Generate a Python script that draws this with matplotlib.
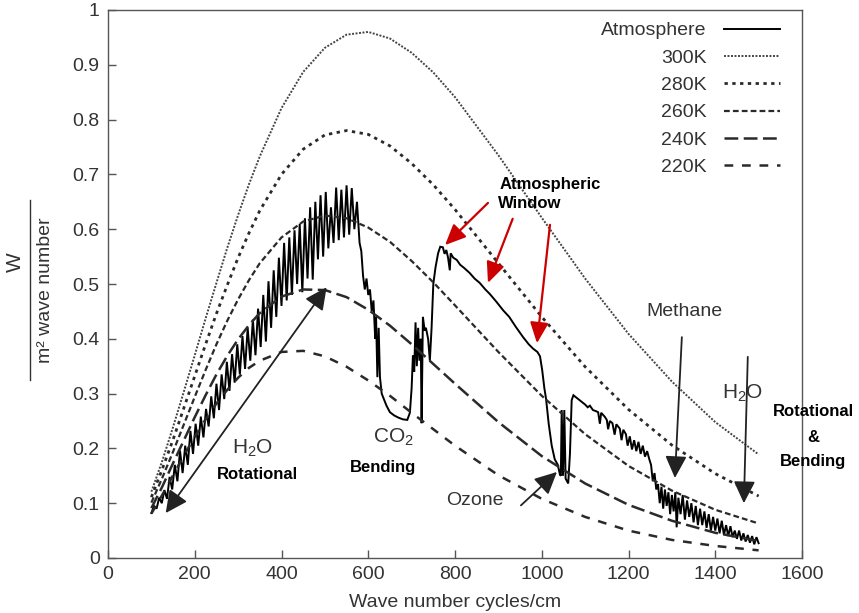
import matplotlib
matplotlib.use("Agg")
import matplotlib.pyplot as plt
from matplotlib.lines import Line2D

plt.rcParams['font.family'] = ['Liberation Sans', 'DejaVu Sans']
plt.rcParams['mathtext.fontset'] = 'custom'
plt.rcParams['mathtext.rm'] = 'Liberation Sans'
plt.rcParams['mathtext.it'] = 'Liberation Sans:italic'
plt.rcParams['mathtext.bf'] = 'Liberation Sans:bold'

# ---------------- data ----------------
wn = [100, 125, 150, 175, 200, 225, 250, 275, 300, 325, 350, 400, 450, 500,
      550, 600, 650, 700, 750, 800, 900, 1000, 1100, 1200, 1300, 1400, 1500]
b300 = [0.121, 0.177, 0.239, 0.304, 0.370, 0.437, 0.502, 0.566, 0.626, 0.682,
        0.733, 0.821, 0.887, 0.931, 0.955, 0.960, 0.948, 0.922, 0.886, 0.841,
        0.735, 0.621, 0.510, 0.409, 0.322, 0.248, 0.189]
b280 = [0.111, 0.162, 0.216, 0.274, 0.332, 0.390, 0.446, 0.498, 0.548, 0.593,
        0.634, 0.700, 0.746, 0.772, 0.780, 0.773, 0.752, 0.720, 0.681, 0.636,
        0.538, 0.440, 0.349, 0.271, 0.206, 0.154, 0.113]
b260 = [0.101, 0.146, 0.194, 0.244, 0.294, 0.343, 0.390, 0.433, 0.472, 0.507,
        0.538, 0.585, 0.614, 0.625, 0.620, 0.603, 0.577, 0.542, 0.503, 0.461,
        0.376, 0.296, 0.226, 0.168, 0.123, 0.088, 0.063]
b240 = [0.091, 0.130, 0.173, 0.215, 0.257, 0.297, 0.335, 0.369, 0.399, 0.425,
        0.447, 0.477, 0.490, 0.489, 0.476, 0.453, 0.424, 0.390, 0.354, 0.318,
        0.248, 0.186, 0.136, 0.097, 0.068, 0.046, 0.031]
b220 = [0.081, 0.115, 0.151, 0.187, 0.221, 0.253, 0.282, 0.307, 0.329, 0.347,
        0.360, 0.376, 0.378, 0.368, 0.349, 0.324, 0.296, 0.265, 0.235, 0.205,
        0.151, 0.108, 0.075, 0.050, 0.033, 0.022, 0.014]

atm_x = [100, 106, 112, 118, 124, 130, 136, 142, 148, 154, 160, 166, 172, 178,
         184, 190, 196, 202, 208, 214, 220, 226, 232, 238, 244, 250, 256, 262,
         268, 274, 280, 286, 292, 298, 304, 310, 316, 322, 328, 334, 340, 346,
         352, 358, 364, 370, 376, 382, 388, 394, 400, 406, 412, 418, 424, 430,
         436, 442, 448, 454, 460, 466, 472, 478, 484, 490, 496, 502, 508, 514,
         520, 526, 532, 538, 544, 550, 556, 562, 568, 574, 580,
         584, 588, 592, 596, 600, 604, 608, 612, 616, 618, 621, 624, 627, 631,
         636, 642, 650, 660, 670, 680, 690, 696, 700, 703, 706, 709, 712, 715,
         718, 721, 723, 726, 730, 733, 738, 742, 746, 750, 755, 761, 766, 772,
         776, 780, 784, 788, 790, 796, 804, 812, 820, 834, 845, 857, 870, 880,
         895, 911, 925, 940, 957, 970, 980, 990, 996, 1001, 1006, 1010, 1016,
         1023, 1030, 1037, 1042, 1044, 1046, 1049, 1052, 1055, 1061, 1065, 1069,
         1073, 1084, 1095, 1100, 1106, 1111, 1118, 1125, 1130, 1134, 1137, 1145,
         1150, 1153, 1157, 1163, 1168, 1172, 1180, 1184, 1188, 1194, 1198, 1203,
         1208, 1213, 1218, 1223, 1228, 1233, 1238, 1243, 1248, 1252, 1256, 1260,
         1264, 1268, 1272, 1276, 1280, 1284, 1288, 1292, 1296, 1300, 1304, 1308,
         1311, 1315, 1320, 1325, 1330, 1335, 1340, 1345, 1350, 1355, 1360, 1365,
         1370, 1375, 1380, 1385, 1390, 1395, 1400, 1405, 1410, 1415, 1420, 1425,
         1430, 1435, 1440, 1445, 1450, 1455, 1460, 1465, 1470, 1475, 1480, 1485,
         1490, 1495, 1500]
atm_y = [0.082, 0.095, 0.090, 0.110, 0.100, 0.124, 0.108, 0.148, 0.125, 0.170,
         0.140, 0.196, 0.155, 0.205, 0.170, 0.232, 0.190, 0.245, 0.205, 0.258,
         0.220, 0.272, 0.240, 0.295, 0.255, 0.318, 0.270, 0.335, 0.290, 0.358,
         0.305, 0.372, 0.320, 0.390, 0.335, 0.405, 0.345, 0.420, 0.360, 0.435,
         0.370, 0.455, 0.385, 0.480, 0.395, 0.505, 0.420, 0.525, 0.440, 0.548,
         0.460, 0.575, 0.470, 0.585, 0.480, 0.598, 0.500, 0.610, 0.485, 0.620,
         0.510, 0.640, 0.508, 0.650, 0.545, 0.662, 0.550, 0.668, 0.565, 0.640,
         0.575, 0.676, 0.580, 0.672, 0.585, 0.680, 0.590, 0.675, 0.600, 0.650,
         0.575,
         0.560, 0.515, 0.490, 0.510, 0.480, 0.490, 0.450, 0.470, 0.400, 0.440,
         0.330, 0.420, 0.330, 0.300, 0.290, 0.278, 0.266, 0.260, 0.256, 0.253,
         0.252, 0.265, 0.310, 0.370, 0.340, 0.430, 0.350, 0.420, 0.360, 0.400,
         0.246, 0.440, 0.415, 0.420, 0.400, 0.360, 0.420, 0.500, 0.530, 0.556,
         0.568, 0.567, 0.555, 0.562, 0.548, 0.525, 0.556, 0.548, 0.544, 0.535,
         0.530, 0.520, 0.510, 0.502, 0.490, 0.482, 0.468, 0.452, 0.440, 0.422,
         0.403, 0.390, 0.382, 0.376, 0.368, 0.343, 0.310, 0.290, 0.245, 0.205,
         0.180, 0.170, 0.152, 0.150, 0.270, 0.150, 0.270, 0.145, 0.136, 0.190,
         0.288, 0.297, 0.290, 0.283, 0.280, 0.275, 0.278, 0.270, 0.268, 0.266,
         0.245, 0.265, 0.258, 0.252, 0.235, 0.250, 0.246, 0.225, 0.244, 0.236,
         0.215, 0.234, 0.226, 0.205, 0.222, 0.198, 0.215, 0.195, 0.212, 0.190,
         0.205, 0.185, 0.195, 0.180, 0.170, 0.140, 0.155, 0.125, 0.135, 0.100,
         0.130, 0.090, 0.125, 0.095, 0.120, 0.080, 0.115, 0.085, 0.120, 0.056,
         0.110, 0.080, 0.115, 0.070, 0.105, 0.075, 0.100, 0.065, 0.095, 0.060,
         0.090, 0.060, 0.085, 0.055, 0.080, 0.050, 0.075, 0.050, 0.072, 0.045,
         0.068, 0.042, 0.060, 0.040, 0.058, 0.038, 0.050, 0.035, 0.050, 0.032,
         0.045, 0.030, 0.042, 0.028, 0.040, 0.025, 0.038, 0.027]

x_ticks = [0, 200, 400, 600, 800, 1000, 1200, 1400, 1600]
y_ticks = [0, 0.1, 0.2, 0.3, 0.4, 0.5, 0.6, 0.7, 0.8, 0.9, 1.0]
y_tick_labels = ['0', '0.1', '0.2', '0.3', '0.4', '0.5', '0.6', '0.7', '0.8', '0.9', '1']

# ---------------- figure ----------------
W, H = 859, 613
fig = plt.figure(figsize=(W / 100, H / 100), dpi=100)
L, R, T, B = 108, 802, 10, 558
ax = fig.add_axes([L / W, 1 - B / H, (R - L) / W, (B - T) / H])

txt = '#333333'
ax.plot(atm_x, atm_y, color='black', lw=1.4, label='Atmosphere', solid_joinstyle='miter')
ax.plot(wn, b300, color='#444444', lw=1.4, ls=(0, (1, 0.8)), label='300K')
ax.plot(wn, b280, color='#2a2a2a', lw=2.0, ls=(0, (1.2, 1.6)), label='280K')
ax.plot(wn, b260, color='#2a2a2a', lw=1.6, ls=(0, (2.6, 1.4)), label='260K')
ax.plot(wn, b240, color='#2a2a2a', lw=1.8, ls=(0, (5.5, 2.2)), label='240K')
ax.plot(wn, b220, color='#2a2a2a', lw=1.8, ls=(0, (3.5, 3.5)), label='220K')

ax.set_xlim(0, 1600)
ax.set_ylim(0, 1)
ax.set_xticks(x_ticks)
ax.set_yticks(y_ticks)
ax.set_yticklabels(y_tick_labels)
ax.tick_params(direction='in', length=6, width=1, color='#555555',
               labelsize=14, labelcolor=txt, pad=6)
for s in ax.spines.values():
    s.set_color('#555555')
    s.set_linewidth(1.0)

ax.set_xlabel('Wave number cycles/cm', fontsize=14, color=txt, labelpad=8)

leg = ax.legend(loc='upper right', bbox_to_anchor=(1 - 12 / 694, 1 - 2 / 548),
                frameon=False, markerfirst=False, fontsize=14,
                handlelength=2.9, handletextpad=0.9, labelspacing=0.5,
                borderaxespad=0.3, borderpad=0.2)
for t in leg.get_texts():
    t.set_color(txt)
    t.set_ha('right')
leg._legend_box.align = 'right'

# ---------------- y label as a fraction ----------------
fig.text(15 / W, 1 - 262 / H, 'W', rotation=90, fontsize=15, color=txt,
         ha='center', va='center')
fig.add_artist(Line2D([30 / W, 30 / W], [1 - 200 / H, 1 - 380 / H],
                      transform=fig.transFigure, color=txt, lw=1.0))
fig.text(46 / W, 1 - 290 / H, 'm² wave number', rotation=90, fontsize=14,
         color=txt, ha='center', va='center')

# ---------------- annotations ----------------
h2o = r'H$_\mathregular{2}$O'
co2 = r'CO$_\mathregular{2}$'
ax.text(334, 0.200, h2o, fontsize=15, color=txt, ha='center', va='center')
ax.text(345, 0.153, 'Rotational', fontsize=12, fontweight='bold', ha='center', va='center')
ax.text(657, 0.220, co2, fontsize=15, color=txt, ha='center', va='center')
ax.text(634, 0.166, 'Bending', fontsize=12, fontweight='bold', ha='center', va='center')
ax.text(846, 0.105, 'Ozone', fontsize=14, color=txt, ha='center', va='center')
ax.text(1330, 0.449, 'Methane', fontsize=14, color=txt, ha='center', va='center')
ax.text(1464, 0.301, h2o, fontsize=15, color=txt, ha='center', va='center')
ax.text(1626, 0.268, 'Rotational', fontsize=12, fontweight='bold', ha='center',
        va='center', clip_on=False)
ax.text(1626, 0.220, '&', fontsize=12, fontweight='bold', ha='center',
        va='center', clip_on=False)
ax.text(1626, 0.176, 'Bending', fontsize=12, fontweight='bold', ha='center',
        va='center', clip_on=False)
ax.text(1019, 0.682, 'Atmospheric', fontsize=12, fontweight='bold', ha='center', va='center')
ax.text(973, 0.646, 'Window', fontsize=12, fontweight='bold', ha='center', va='center')

blk = dict(arrowstyle='-|>,head_length=0.45,head_width=0.22', color='#222222', lw=1.3,
           mutation_scale=30, shrinkA=0, shrinkB=0)
ax.annotate('', xy=(504, 0.494), xytext=(133, 0.082),
            arrowprops=dict(blk, arrowstyle='<|-|>,head_length=0.45,head_width=0.22'))
ax.annotate('', xy=(1035, 0.157), xytext=(952, 0.096), arrowprops=blk)
ax.annotate('', xy=(1307, 0.146), xytext=(1323, 0.403), arrowprops=blk)
ax.annotate('', xy=(1466, 0.100), xytext=(1475, 0.367), arrowprops=blk)

red = dict(arrowstyle='-|>,head_length=0.45,head_width=0.2', color='#cc0000', lw=1.6,
           mutation_scale=28, shrinkA=0, shrinkB=0)
ax.annotate('', xy=(777, 0.571), xytext=(876, 0.648), arrowprops=red)
ax.annotate('', xy=(876, 0.502), xytext=(933, 0.619), arrowprops=red)
ax.annotate('', xy=(989, 0.392), xytext=(1019, 0.608), arrowprops=red)

fig.savefig('out.png', dpi=100)
